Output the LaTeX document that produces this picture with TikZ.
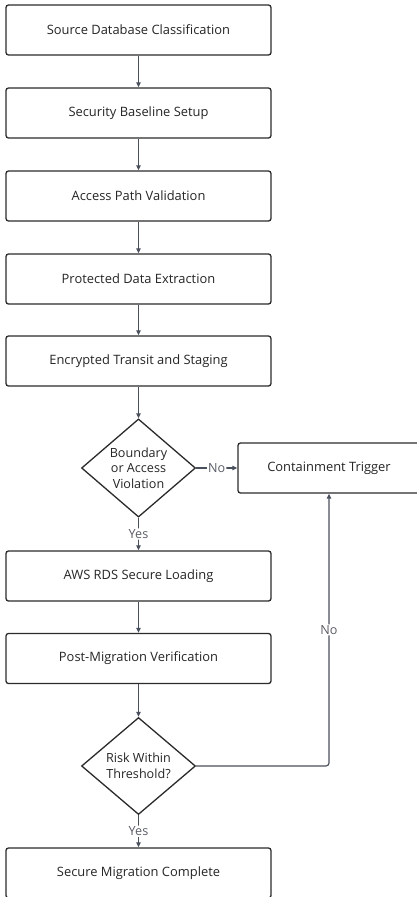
\documentclass[tikz,border=0pt]{standalone}
\usepackage{fontspec}
\setmainfont{Open Sans}
\usetikzlibrary{shapes.geometric,arrows.meta}
\definecolor{edgec}{HTML}{4A4F5C}
\definecolor{boxc}{HTML}{2B2B2B}
\definecolor{labc}{HTML}{5A5E66}
\tikzset{
  stepbox/.style={draw=boxc, line width=1.3pt, rounded corners=2.5pt, fill=white,
    minimum width=265pt, minimum height=50pt, inner sep=0pt, font=\fontsize{12.9}{14}\selectfont, text=black!85},
  decide/.style={draw=boxc, line width=1.3pt, diamond, fill=white, minimum width=114pt, minimum height=97pt,
    inner sep=0pt, align=center, font=\fontsize{12.6}{15.5}\selectfont, text=black!85},
  conn/.style={draw=edgec, line width=1.2pt, -{Triangle[length=5pt,width=4.5pt]}, rounded corners=3pt},
  lab/.style={fill=white, inner sep=1pt, text=labc, font=\fontsize{12.6}{14}\selectfont}
}
\begin{document}
\begin{tikzpicture}[x=1pt,y=-1pt]
\useasboundingbox (0,0) rectangle (417,897);
\clip (0,0) rectangle (417,897);
\node[stepbox] (n1) at (138.5,30) {Source Database Classification};
\node[stepbox] (n2) at (138.5,113) {Security Baseline Setup};
\node[stepbox] (n3) at (138.5,196) {Access Path Validation};
\node[stepbox] (n4) at (138.5,279) {Protected Data Extraction};
\node[stepbox] (n5) at (138.5,361) {Encrypted Transit and Staging};
\node[decide] (d1) at (138.5,468) {Boundary\\or Access\\Violation};
\node[stepbox, minimum width=182pt] (ct) at (329,468) {Containment Trigger};
\node[stepbox] (n6) at (138.5,576) {AWS RDS Secure Loading};
\node[stepbox] (n7) at (138.5,658.5) {Post-Migration Verification};
\node[decide] (d2) at (138.5,766) {Risk Within\\Threshold?};
\node[stepbox] (n8) at (138.5,873) {Secure Migration Complete};
\draw[conn] (n1) -- (n2);
\draw[conn] (n2) -- (n3);
\draw[conn] (n3) -- (n4);
\draw[conn] (n4) -- (n5);
\draw[conn] (n5) -- (d1);
\draw[conn] (d1) -- node[lab] {No} (ct);
\draw[conn] (d1) -- node[lab] {Yes} (n6);
\draw[conn] (n6) -- (n7);
\draw[conn] (n7) -- (d2);
\draw[conn] (d2) -- node[lab] {Yes} (n8);
\draw[conn] (d2.east) -| node[lab, pos=0.75] {No} (ct.south);
\end{tikzpicture}
\end{document}
